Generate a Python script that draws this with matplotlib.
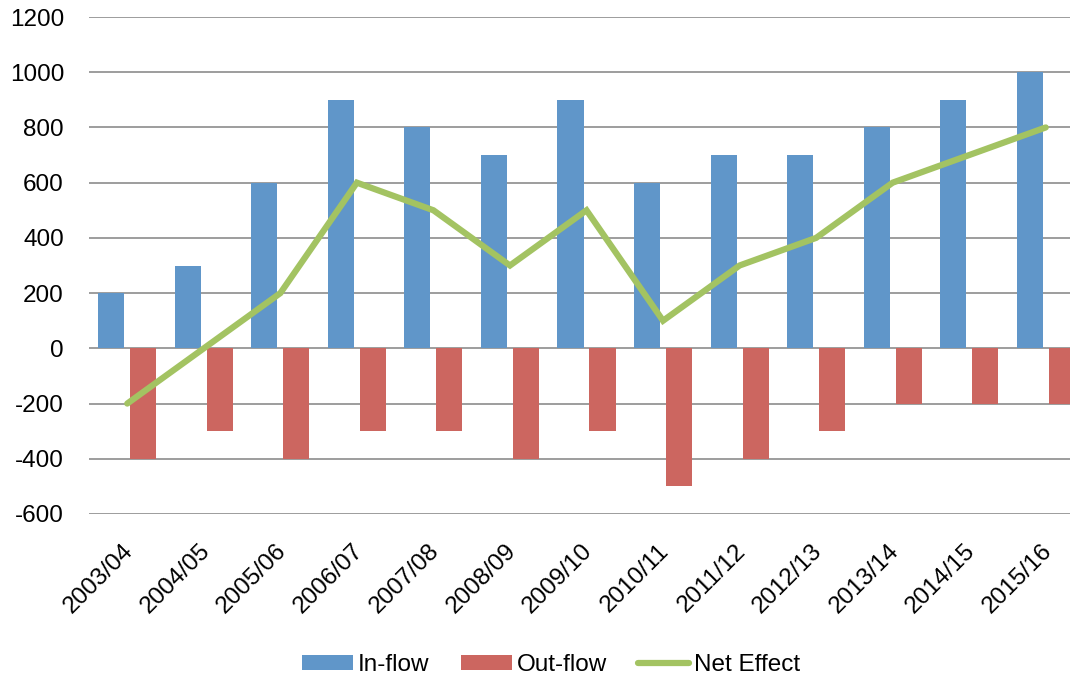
import numpy as np
import matplotlib.pyplot as plt
from matplotlib.transforms import ScaledTranslation

plt.rcParams['font.family'] = ['Liberation Sans', 'DejaVu Sans']
plt.rcParams['axes.unicode_minus'] = False

# Datos del grafico
anios = ["2003/04", "2004/05", "2005/06", "2006/07", "2007/08", "2008/09", "2009/10",
         "2010/11", "2011/12", "2012/13", "2013/14", "2014/15", "2015/16"]
entrada = [200, 300, 600, 900, 800, 700, 900, 600, 700, 700, 800, 900, 1000]
salida = [-400, -300, -400, -300, -300, -400, -300, -500, -400, -300, -200, -200, -200]
neto = [-200, 0, 200, 600, 500, 300, 500, 100, 300, 400, 600, 700, 800]

W, H = 1070, 682
fig = plt.figure(figsize=(W / 100, H / 100), dpi=100)
# el area del grafico se sale un poco por la derecha, como en el original
ax = fig.add_axes([89 / W, 1 - 514 / H, 995 / W, 497 / H])

x = np.arange(len(anios))
ancho = 0.34
b1 = ax.bar(x - 0.209, entrada, ancho, color="#6096C9", label="In-flow", zorder=3)
b2 = ax.bar(x + 0.209, salida, ancho, color="#CC6660", label="Out-flow", zorder=3)
l1, = ax.plot(x, neto, color="#A3C362", lw=4.5, label="Net Effect", zorder=4,
              solid_capstyle="round", solid_joinstyle="miter")

ax.set_xlim(-0.5, len(anios) - 0.5)
ax.set_ylim(-600, 1200)
ax.set_yticks(range(-600, 1201, 200))
ax.grid(axis="y", color="#959595", lw=1.3, zorder=0)
ax.set_axisbelow(True)

for s in ax.spines.values():
    s.set_visible(False)
ax.tick_params(axis="both", length=0, labelsize=17.5)
ax.tick_params(axis="y", pad=18)
ax.set_xticks(x)
ax.set_xticklabels(anios, rotation=45, ha="right", rotation_mode="anchor")
ax.tick_params(axis="x", pad=10)
# mover etiquetas un poco abajo y a la izquierda
desplaza = ScaledTranslation(-0.05, -0.12, fig.dpi_scale_trans)
for lab in ax.get_xticklabels():
    lab.set_transform(lab.get_transform() + desplaza)

# Leyenda abajo
fig.legend([b1, b2, l1], ["In-flow", "Out-flow", "Net Effect"],
           loc="center", bbox_to_anchor=(551 / W, 1 - 665 / H), ncol=3, frameon=False,
           fontsize=17.5, handlelength=2.1, handleheight=0.6, handletextpad=0.2,
           columnspacing=1.3)

plt.savefig("out.png", dpi=100)
